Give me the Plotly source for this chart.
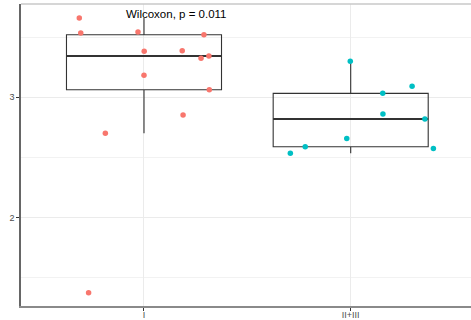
import numpy as np
import plotly.graph_objects as go

categories = ["I", "II+III"]
colors = ["#F8766D", "#00BFC4"]

# values
values_I = [3.659, 3.534, 3.542, 3.520, 3.382, 3.387, 3.343, 3.324, 3.183, 3.063, 2.853, 2.701, 1.377]
jitter_I = [-0.313, -0.306, -0.029, 0.290, 0.001, 0.185, 0.314, 0.276, 0.0, 0.316, 0.189, -0.187, -0.268]
values_II = [3.299, 3.091, 3.033, 2.861, 2.820, 2.659, 2.590, 2.535, 2.576]
jitter_II = [-0.002, 0.297, 0.155, 0.156, 0.359, -0.019, -0.220, -0.292, 0.400]

y_ticks = [2, 3]
y_minor = [1.5, 2.5, 3.5]
label = "Wilcoxon, p = 0.011"

groups = [(values_I, jitter_I), (values_II, jitter_II)]
BOX_W = 0.75

fig = go.Figure()

for i, (vals, jit) in enumerate(groups):
    v = np.array(vals)
    q1, med, q3 = np.percentile(v, [25, 50, 75])
    iqr = q3 - q1
    lf = v[v >= q1 - 1.5 * iqr].min()
    uf = v[v <= q3 + 1.5 * iqr].max()
    fig.add_trace(go.Box(
        x=[i], q1=[q1], median=[med], q3=[q3], lowerfence=[lf], upperfence=[uf],
        width=BOX_W, whiskerwidth=0, boxpoints=False,
        fillcolor="rgba(255,255,255,0)",
        line=dict(color="#333333", width=1.1),
        showlegend=False, hoverinfo="skip",
    ))
    # thicker median (ggplot fatten)
    fig.add_trace(go.Scatter(
        x=[i - BOX_W / 2, i + BOX_W / 2], y=[med, med], mode="lines",
        line=dict(color="#333333", width=2), showlegend=False, hoverinfo="skip",
    ))

for i, (vals, jit) in enumerate(groups):
    fig.add_trace(go.Scatter(
        x=[i + j for j in jit], y=vals, mode="markers",
        marker=dict(color=colors[i], size=5.5, line=dict(width=0)),
        showlegend=False,
    ))

fig.add_annotation(
    x=-0.095, y=3.692, xref="x", yref="y", text=label, showarrow=False,
    xanchor="left", yanchor="middle",
    font=dict(family="Liberation Sans, Arial, sans-serif", size=11.5, color="black"),
)

# faint top border
fig.add_shape(type="line", xref="paper", yref="paper", x0=0, x1=1, y0=1, y1=1,
              line=dict(color="#c8c8c8", width=1.5))

fig.update_layout(
    width=471, height=320,
    margin=dict(l=21, r=0, t=4, b=14, autoexpand=False),
    plot_bgcolor="white", paper_bgcolor="white",
    font=dict(family="Liberation Sans, Arial, sans-serif", size=9, color="#4D4D4D"),
)
fig.update_xaxes(
    range=[-0.595, 1.582], tickvals=[0, 1], ticktext=categories, automargin=False,
    showgrid=True, gridcolor="#EBEBEB", gridwidth=1,
    zeroline=False, showline=True, linecolor="#8a8a8a", linewidth=1.5,
    ticks="outside", ticklen=3, tickcolor="#333333", tickwidth=1,
    ticklabelstandoff=-4,
    tickfont=dict(size=9, color="#4D4D4D"),
)
fig.update_yaxes(
    range=[1.267, 3.775], tickvals=y_ticks, automargin=False,
    showgrid=True, gridcolor="#EBEBEB", gridwidth=1,
    minor=dict(tickvals=y_minor, showgrid=True, gridcolor="#F2F2F2", gridwidth=0.8, ticks=""),
    zeroline=False, showline=True, linecolor="#666666", linewidth=1.5,
    ticks="outside", ticklen=3, tickcolor="#333333", tickwidth=1,
    tickfont=dict(size=9, color="#4D4D4D"),
)

fig.write_html("out.html")
